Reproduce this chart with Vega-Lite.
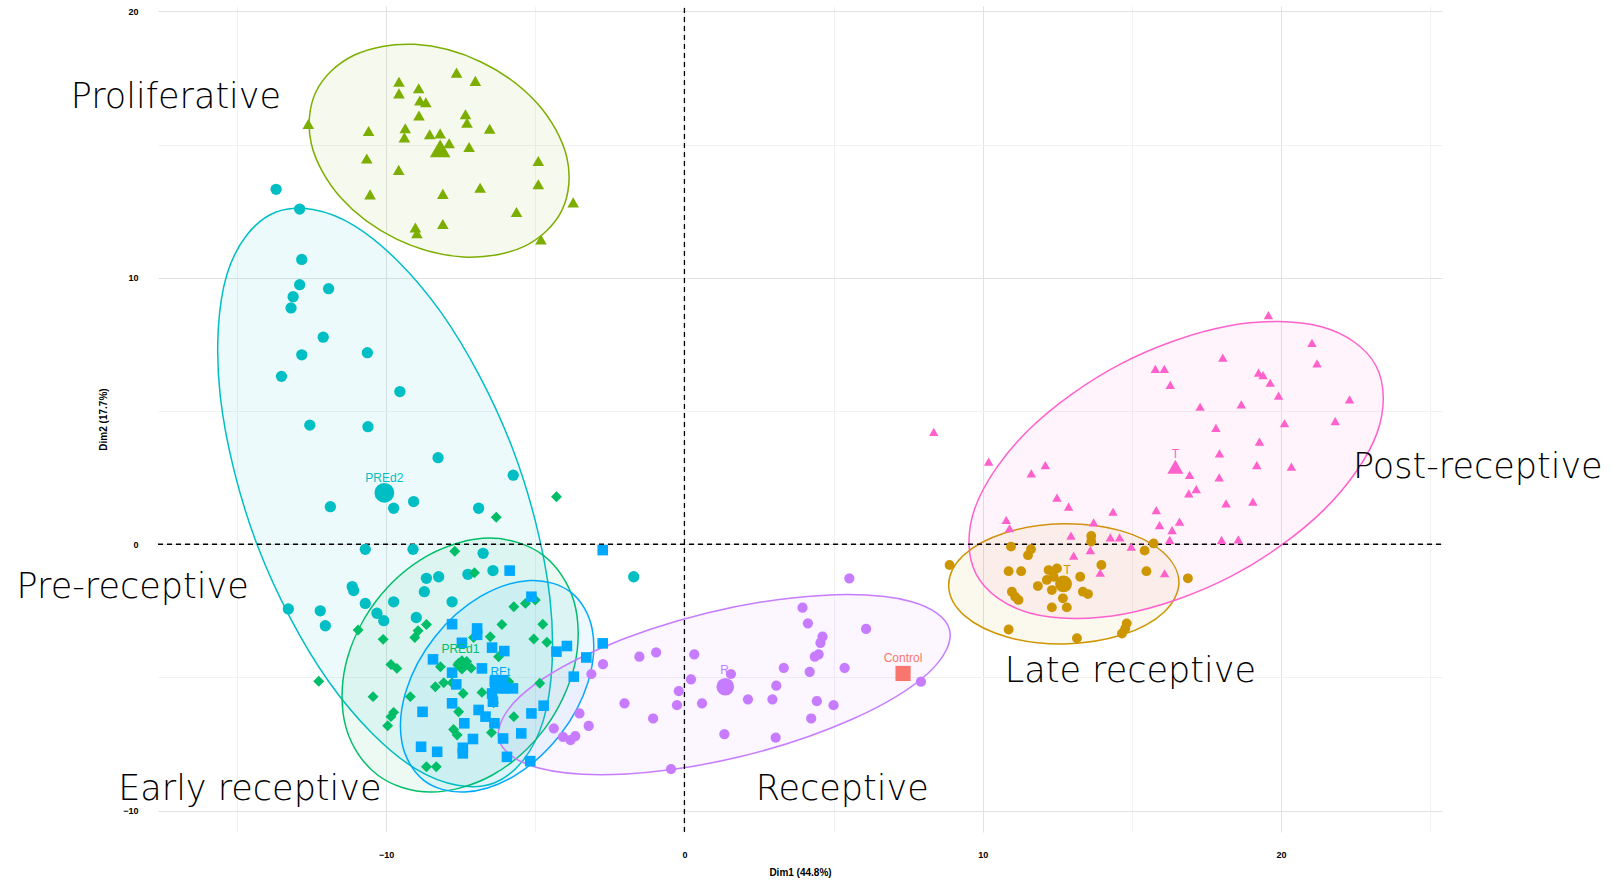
{
"$schema": "https://vega.github.io/schema/vega-lite/v6.json",
"width": 1284, "height": 826,
"autosize": {"type": "none"},
"padding": {"left": 158, "top": 6, "right": 171, "bottom": 54},
"background": "white",
"config": {"view": {"stroke": null}},
"resolve": {"scale": {"size": "independent"}},
"datasets": {
"ref": [{"l":"v","x":0,"y":-10.8},{"l":"v","x":0,"y":20.2},{"l":"h","x":-17.65,"y":0},{"l":"h","x":25.4,"y":0}],
"ell": [
{"g":"Proliferative","i":0,"x":-4.10,"y":12.55},{"g":"Proliferative","i":1,"x":-5.37,"y":11.18},{"g":"Proliferative","i":2,"x":-7.40,"y":10.78},{"g":"Proliferative","i":3,"x":-9.65,"y":11.45},{"g":"Proliferative","i":4,"x":-11.52,"y":13.00},{"g":"Proliferative","i":5,"x":-12.51,"y":15.03},{"g":"Proliferative","i":6,"x":-12.35,"y":16.99},{"g":"Proliferative","i":7,"x":-11.08,"y":18.35},{"g":"Proliferative","i":8,"x":-9.05,"y":18.76},{"g":"Proliferative","i":9,"x":-6.80,"y":18.09},{"g":"Proliferative","i":10,"x":-4.93,"y":16.54},{"g":"Proliferative","i":11,"x":-3.94,"y":14.51},
{"g":"Pre-receptive","i":0,"x":-6.38,"y":-8.96},{"g":"Pre-receptive","i":1,"x":-9.01,"y":-8.43},{"g":"Pre-receptive","i":2,"x":-11.91,"y":-5.18},{"g":"Pre-receptive","i":3,"x":-14.31,"y":-0.07},{"g":"Pre-receptive","i":4,"x":-15.56,"y":5.53},{"g":"Pre-receptive","i":5,"x":-15.34,"y":10.12},{"g":"Pre-receptive","i":6,"x":-13.69,"y":12.47},{"g":"Pre-receptive","i":7,"x":-11.06,"y":11.95},{"g":"Pre-receptive","i":8,"x":-8.16,"y":8.70},{"g":"Pre-receptive","i":9,"x":-5.76,"y":3.58},{"g":"Pre-receptive","i":10,"x":-4.51,"y":-2.02},{"g":"Pre-receptive","i":11,"x":-4.73,"y":-6.61},
{"g":"Early receptive","i":0,"x":-4.74,"y":-0.41},{"g":"Early receptive","i":1,"x":-3.70,"y":-2.16},{"g":"Early receptive","i":2,"x":-3.68,"y":-4.54},{"g":"Early receptive","i":3,"x":-4.69,"y":-6.93},{"g":"Early receptive","i":4,"x":-6.45,"y":-8.67},{"g":"Early receptive","i":5,"x":-8.51,"y":-9.30},{"g":"Early receptive","i":6,"x":-10.29,"y":-8.66},{"g":"Early receptive","i":7,"x":-11.34,"y":-6.91},{"g":"Early receptive","i":8,"x":-11.36,"y":-4.53},{"g":"Early receptive","i":9,"x":-10.35,"y":-2.15},{"g":"Early receptive","i":10,"x":-8.58,"y":-0.41},{"g":"Early receptive","i":11,"x":-6.53,"y":0.23},
{"g":"REt","i":0,"x":-3.80,"y":-1.81},{"g":"REt","i":1,"x":-3.09,"y":-3.20},{"g":"REt","i":2,"x":-3.23,"y":-5.17},{"g":"REt","i":3,"x":-4.18,"y":-7.17},{"g":"REt","i":4,"x":-5.70,"y":-8.69},{"g":"REt","i":5,"x":-7.37,"y":-9.30},{"g":"REt","i":6,"x":-8.75,"y":-8.85},{"g":"REt","i":7,"x":-9.47,"y":-7.45},{"g":"REt","i":8,"x":-9.33,"y":-5.49},{"g":"REt","i":9,"x":-8.37,"y":-3.48},{"g":"REt","i":10,"x":-6.85,"y":-1.97},{"g":"REt","i":11,"x":-5.18,"y":-1.36},
{"g":"Receptive","i":0,"x":8.89,"y":-3.22},{"g":"Receptive","i":1,"x":8.17,"y":-4.84},{"g":"Receptive","i":2,"x":5.62,"y":-6.57},{"g":"Receptive","i":3,"x":1.92,"y":-7.96},{"g":"Receptive","i":4,"x":-1.94,"y":-8.62},{"g":"Receptive","i":5,"x":-4.92,"y":-8.39},{"g":"Receptive","i":6,"x":-6.22,"y":-7.32},{"g":"Receptive","i":7,"x":-5.50,"y":-5.70},{"g":"Receptive","i":8,"x":-2.94,"y":-3.97},{"g":"Receptive","i":9,"x":0.76,"y":-2.58},{"g":"Receptive","i":10,"x":4.61,"y":-1.92},{"g":"Receptive","i":11,"x":7.59,"y":-2.15},
{"g":"Late receptive","i":0,"x":16.58,"y":-1.41},{"g":"Late receptive","i":1,"x":16.08,"y":-2.55},{"g":"Late receptive","i":2,"x":14.68,"y":-3.40},{"g":"Late receptive","i":3,"x":12.75,"y":-3.74},{"g":"Late receptive","i":4,"x":10.82,"y":-3.48},{"g":"Late receptive","i":5,"x":9.39,"y":-2.68},{"g":"Late receptive","i":6,"x":8.86,"y":-1.56},{"g":"Late receptive","i":7,"x":9.35,"y":-0.42},{"g":"Late receptive","i":8,"x":10.76,"y":0.43},{"g":"Late receptive","i":9,"x":12.68,"y":0.77},{"g":"Late receptive","i":10,"x":14.62,"y":0.51},{"g":"Late receptive","i":11,"x":16.04,"y":-0.29},
{"g":"Post-receptive","i":0,"x":23.19,"y":6.69},{"g":"Post-receptive","i":1,"x":23.22,"y":4.17},{"g":"Post-receptive","i":2,"x":21.44,"y":1.29},{"g":"Post-receptive","i":3,"x":18.34,"y":-1.20},{"g":"Post-receptive","i":4,"x":14.74,"y":-2.62},{"g":"Post-receptive","i":5,"x":11.60,"y":-2.59},{"g":"Post-receptive","i":6,"x":9.78,"y":-1.12},{"g":"Post-receptive","i":7,"x":9.75,"y":1.39},{"g":"Post-receptive","i":8,"x":11.53,"y":4.28},{"g":"Post-receptive","i":9,"x":14.63,"y":6.77},{"g":"Post-receptive","i":10,"x":18.23,"y":8.19},{"g":"Post-receptive","i":11,"x":21.36,"y":8.16}
],
"pts": [
{"g":"Proliferative","x":-7.64,"y":17.70},{"g":"Proliferative","x":-7.01,"y":17.39},{"g":"Proliferative","x":-9.57,"y":17.36},{"g":"Proliferative","x":-8.91,"y":17.11},{"g":"Proliferative","x":-9.57,"y":16.92},{"g":"Proliferative","x":-8.87,"y":16.65},{"g":"Proliferative","x":-8.67,"y":16.59},{"g":"Proliferative","x":-8.90,"y":16.09},{"g":"Proliferative","x":-7.34,"y":16.14},{"g":"Proliferative","x":-7.29,"y":15.82},{"g":"Proliferative","x":-6.53,"y":15.59},{"g":"Proliferative","x":-9.36,"y":15.61},{"g":"Proliferative","x":-9.39,"y":15.27},{"g":"Proliferative","x":-10.59,"y":15.51},{"g":"Proliferative","x":-8.54,"y":15.39},{"g":"Proliferative","x":-8.19,"y":15.42},{"g":"Proliferative","x":-7.89,"y":15.05},{"g":"Proliferative","x":-7.22,"y":14.91},{"g":"Proliferative","x":-10.65,"y":14.48},{"g":"Proliferative","x":-4.90,"y":14.38},{"g":"Proliferative","x":-9.58,"y":14.05},{"g":"Proliferative","x":-4.90,"y":13.51},{"g":"Proliferative","x":-6.85,"y":13.38},{"g":"Proliferative","x":-10.54,"y":13.13},{"g":"Proliferative","x":-8.10,"y":13.15},{"g":"Proliferative","x":-3.73,"y":12.83},{"g":"Proliferative","x":-5.63,"y":12.47},{"g":"Proliferative","x":-9.02,"y":11.89},{"g":"Proliferative","x":-8.97,"y":11.67},{"g":"Proliferative","x":-8.10,"y":12.02},{"g":"Proliferative","x":-4.81,"y":11.44},{"g":"Proliferative","x":-12.61,"y":15.77},
{"g":"Pre-receptive","x":-13.69,"y":13.32},{"g":"Pre-receptive","x":-12.90,"y":12.58},{"g":"Pre-receptive","x":-12.83,"y":10.69},{"g":"Pre-receptive","x":-12.90,"y":9.74},{"g":"Pre-receptive","x":-11.93,"y":9.59},{"g":"Pre-receptive","x":-13.12,"y":9.29},{"g":"Pre-receptive","x":-13.19,"y":8.87},{"g":"Pre-receptive","x":-12.11,"y":7.77},{"g":"Pre-receptive","x":-10.63,"y":7.19},{"g":"Pre-receptive","x":-12.83,"y":7.11},{"g":"Pre-receptive","x":-13.51,"y":6.30},{"g":"Pre-receptive","x":-9.54,"y":5.73},{"g":"Pre-receptive","x":-12.56,"y":4.47},{"g":"Pre-receptive","x":-10.61,"y":4.41},{"g":"Pre-receptive","x":-8.26,"y":3.25},{"g":"Pre-receptive","x":-5.74,"y":2.59},{"g":"Pre-receptive","x":-11.87,"y":1.41},{"g":"Pre-receptive","x":-9.75,"y":1.35},{"g":"Pre-receptive","x":-9.08,"y":1.60},{"g":"Pre-receptive","x":-6.90,"y":1.35},{"g":"Pre-receptive","x":-10.70,"y":-0.19},{"g":"Pre-receptive","x":-9.10,"y":-0.19},{"g":"Pre-receptive","x":-6.75,"y":-0.34},{"g":"Pre-receptive","x":-6.42,"y":-0.99},{"g":"Pre-receptive","x":-8.65,"y":-1.28},{"g":"Pre-receptive","x":-8.24,"y":-1.22},{"g":"Pre-receptive","x":-7.26,"y":-1.13},{"g":"Pre-receptive","x":-11.14,"y":-1.59},{"g":"Pre-receptive","x":-11.09,"y":-1.74},{"g":"Pre-receptive","x":-8.72,"y":-1.78},{"g":"Pre-receptive","x":-7.79,"y":-2.16},{"g":"Pre-receptive","x":-10.70,"y":-2.22},{"g":"Pre-receptive","x":-9.75,"y":-2.16},{"g":"Pre-receptive","x":-10.31,"y":-2.59},{"g":"Pre-receptive","x":-12.21,"y":-2.50},{"g":"Pre-receptive","x":-12.04,"y":-3.06},{"g":"Pre-receptive","x":-10.08,"y":-2.87},{"g":"Pre-receptive","x":-8.99,"y":-2.75},{"g":"Pre-receptive","x":-1.70,"y":-1.22},{"g":"Pre-receptive","x":-13.28,"y":-2.43},
{"g":"Early receptive","x":-4.29,"y":1.78},{"g":"Early receptive","x":-6.31,"y":1.01},{"g":"Early receptive","x":-7.70,"y":-0.26},{"g":"Early receptive","x":-7.04,"y":-1.07},{"g":"Early receptive","x":-10.94,"y":-3.22},{"g":"Early receptive","x":-10.10,"y":-3.57},{"g":"Early receptive","x":-9.04,"y":-3.50},{"g":"Early receptive","x":-8.93,"y":-3.25},{"g":"Early receptive","x":-8.65,"y":-3.01},{"g":"Early receptive","x":-7.07,"y":-3.50},{"g":"Early receptive","x":-6.51,"y":-3.47},{"g":"Early receptive","x":-6.12,"y":-3.01},{"g":"Early receptive","x":-5.72,"y":-2.35},{"g":"Early receptive","x":-5.33,"y":-2.22},{"g":"Early receptive","x":-5.00,"y":-2.09},{"g":"Early receptive","x":-4.75,"y":-3.00},{"g":"Early receptive","x":-5.05,"y":-3.56},{"g":"Early receptive","x":-4.61,"y":-3.68},{"g":"Early receptive","x":-9.84,"y":-4.51},{"g":"Early receptive","x":-9.64,"y":-4.66},{"g":"Early receptive","x":-8.18,"y":-4.60},{"g":"Early receptive","x":-7.57,"y":-4.47},{"g":"Early receptive","x":-6.23,"y":-4.22},{"g":"Early receptive","x":-8.35,"y":-5.35},{"g":"Early receptive","x":-8.07,"y":-5.20},{"g":"Early receptive","x":-7.79,"y":-5.20},{"g":"Early receptive","x":-6.79,"y":-5.56},{"g":"Early receptive","x":-7.42,"y":-5.60},{"g":"Early receptive","x":-9.19,"y":-5.72},{"g":"Early receptive","x":-10.44,"y":-5.72},{"g":"Early receptive","x":-9.75,"y":-6.31},{"g":"Early receptive","x":-9.84,"y":-6.47},{"g":"Early receptive","x":-9.95,"y":-6.81},{"g":"Early receptive","x":-7.57,"y":-6.29},{"g":"Early receptive","x":-6.40,"y":-5.95},{"g":"Early receptive","x":-5.89,"y":-5.16},{"g":"Early receptive","x":-7.74,"y":-6.95},{"g":"Early receptive","x":-7.62,"y":-7.16},{"g":"Early receptive","x":-6.47,"y":-7.07},{"g":"Early receptive","x":-5.72,"y":-6.47},{"g":"Early receptive","x":-4.85,"y":-5.22},{"g":"Early receptive","x":-8.65,"y":-8.35},{"g":"Early receptive","x":-8.32,"y":-8.35},{"g":"Early receptive","x":-12.26,"y":-5.14},{"g":"Early receptive","x":-7.30,"y":-4.40},{"g":"Early receptive","x":-7.15,"y":-4.65},
{"g":"REt","x":-2.74,"y":-0.22},{"g":"REt","x":-5.86,"y":-0.99},{"g":"REt","x":-5.13,"y":-1.97},{"g":"REt","x":-7.79,"y":-3.00},{"g":"REt","x":-6.95,"y":-3.16},{"g":"REt","x":-6.95,"y":-3.40},{"g":"REt","x":-7.46,"y":-3.70},{"g":"REt","x":-6.45,"y":-3.88},{"g":"REt","x":-6.04,"y":-4.01},{"g":"REt","x":-8.43,"y":-4.32},{"g":"REt","x":-7.79,"y":-4.82},{"g":"REt","x":-7.65,"y":-5.26},{"g":"REt","x":-6.79,"y":-4.66},{"g":"REt","x":-6.36,"y":-5.16},{"g":"REt","x":-6.06,"y":-5.41},{"g":"REt","x":-5.75,"y":-5.41},{"g":"REt","x":-6.45,"y":-5.60},{"g":"REt","x":-6.42,"y":-5.91},{"g":"REt","x":-7.79,"y":-5.97},{"g":"REt","x":-8.78,"y":-6.29},{"g":"REt","x":-6.90,"y":-6.22},{"g":"REt","x":-6.67,"y":-6.47},{"g":"REt","x":-6.37,"y":-6.72},{"g":"REt","x":-7.38,"y":-6.72},{"g":"REt","x":-7.09,"y":-7.31},{"g":"REt","x":-8.83,"y":-7.60},{"g":"REt","x":-8.29,"y":-7.79},{"g":"REt","x":-7.43,"y":-7.64},{"g":"REt","x":-7.43,"y":-7.85},{"g":"REt","x":-6.08,"y":-7.29},{"g":"REt","x":-5.47,"y":-7.10},{"g":"REt","x":-5.13,"y":-6.35},{"g":"REt","x":-4.72,"y":-6.06},{"g":"REt","x":-5.95,"y":-7.98},{"g":"REt","x":-5.17,"y":-8.14},{"g":"REt","x":-4.29,"y":-4.03},{"g":"REt","x":-3.94,"y":-3.82},{"g":"REt","x":-3.29,"y":-4.25},{"g":"REt","x":-3.71,"y":-4.97},{"g":"REt","x":-2.74,"y":-3.72},
{"g":"Receptive","x":5.53,"y":-1.28},{"g":"Receptive","x":3.96,"y":-2.38},{"g":"Receptive","x":4.14,"y":-2.97},{"g":"Receptive","x":6.09,"y":-3.18},{"g":"Receptive","x":4.63,"y":-3.47},{"g":"Receptive","x":4.56,"y":-3.70},{"g":"Receptive","x":4.50,"y":-4.13},{"g":"Receptive","x":4.37,"y":-4.22},{"g":"Receptive","x":5.37,"y":-4.64},{"g":"Receptive","x":4.20,"y":-4.79},{"g":"Receptive","x":3.33,"y":-4.64},{"g":"Receptive","x":1.56,"y":-4.87},{"g":"Receptive","x":3.08,"y":-5.31},{"g":"Receptive","x":0.33,"y":-4.13},{"g":"Receptive","x":-0.95,"y":-4.06},{"g":"Receptive","x":-1.51,"y":-4.22},{"g":"Receptive","x":-2.73,"y":-4.50},{"g":"Receptive","x":-3.12,"y":-4.87},{"g":"Receptive","x":0.22,"y":-5.07},{"g":"Receptive","x":-0.19,"y":-5.51},{"g":"Receptive","x":-0.25,"y":-6.04},{"g":"Receptive","x":0.59,"y":-5.97},{"g":"Receptive","x":-2.01,"y":-5.97},{"g":"Receptive","x":2.13,"y":-5.82},{"g":"Receptive","x":2.95,"y":-5.82},{"g":"Receptive","x":4.44,"y":-5.89},{"g":"Receptive","x":5.00,"y":-6.04},{"g":"Receptive","x":4.25,"y":-6.54},{"g":"Receptive","x":-1.05,"y":-6.54},{"g":"Receptive","x":-3.52,"y":-6.35},{"g":"Receptive","x":-3.21,"y":-6.82},{"g":"Receptive","x":-4.38,"y":-6.91},{"g":"Receptive","x":-3.82,"y":-7.35},{"g":"Receptive","x":-3.66,"y":-7.20},{"g":"Receptive","x":-4.07,"y":-7.23},{"g":"Receptive","x":1.34,"y":-7.13},{"g":"Receptive","x":3.06,"y":-7.26},{"g":"Receptive","x":-0.45,"y":-8.44},{"g":"Receptive","x":7.93,"y":-5.16},
{"g":"Late receptive","x":8.89,"y":-0.78},{"g":"Late receptive","x":10.95,"y":-0.09},{"g":"Late receptive","x":11.52,"y":-0.41},{"g":"Late receptive","x":11.62,"y":-0.19},{"g":"Late receptive","x":10.87,"y":-1.01},{"g":"Late receptive","x":11.29,"y":-1.01},{"g":"Late receptive","x":12.21,"y":-0.97},{"g":"Late receptive","x":12.49,"y":-0.91},{"g":"Late receptive","x":12.38,"y":-1.22},{"g":"Late receptive","x":12.15,"y":-1.34},{"g":"Late receptive","x":11.85,"y":-1.57},{"g":"Late receptive","x":13.27,"y":-1.22},{"g":"Late receptive","x":12.32,"y":-1.72},{"g":"Late receptive","x":10.98,"y":-1.78},{"g":"Late receptive","x":11.09,"y":-1.97},{"g":"Late receptive","x":11.20,"y":-2.09},{"g":"Late receptive","x":13.36,"y":-1.78},{"g":"Late receptive","x":13.53,"y":-1.87},{"g":"Late receptive","x":12.69,"y":-2.03},{"g":"Late receptive","x":12.32,"y":-2.37},{"g":"Late receptive","x":12.82,"y":-2.37},{"g":"Late receptive","x":13.64,"y":0.31},{"g":"Late receptive","x":13.64,"y":0.10},{"g":"Late receptive","x":13.98,"y":-0.78},{"g":"Late receptive","x":15.43,"y":-0.24},{"g":"Late receptive","x":15.49,"y":-1.01},{"g":"Late receptive","x":15.73,"y":0.03},{"g":"Late receptive","x":16.88,"y":-1.28},{"g":"Late receptive","x":10.87,"y":-3.20},{"g":"Late receptive","x":13.16,"y":-3.53},{"g":"Late receptive","x":14.83,"y":-2.97},{"g":"Late receptive","x":14.78,"y":-3.16},{"g":"Late receptive","x":14.67,"y":-3.35},
{"g":"Post-receptive","x":19.58,"y":8.60},{"g":"Post-receptive","x":21.04,"y":7.56},{"g":"Post-receptive","x":21.21,"y":6.79},{"g":"Post-receptive","x":18.05,"y":7.00},{"g":"Post-receptive","x":15.79,"y":6.58},{"g":"Post-receptive","x":16.09,"y":6.58},{"g":"Post-receptive","x":16.29,"y":5.98},{"g":"Post-receptive","x":19.25,"y":6.44},{"g":"Post-receptive","x":19.40,"y":6.35},{"g":"Post-receptive","x":19.64,"y":6.06},{"g":"Post-receptive","x":19.92,"y":5.58},{"g":"Post-receptive","x":18.67,"y":5.25},{"g":"Post-receptive","x":17.29,"y":5.16},{"g":"Post-receptive","x":22.30,"y":5.44},{"g":"Post-receptive","x":21.82,"y":4.62},{"g":"Post-receptive","x":20.12,"y":4.54},{"g":"Post-receptive","x":17.82,"y":4.37},{"g":"Post-receptive","x":19.28,"y":3.85},{"g":"Post-receptive","x":17.94,"y":3.41},{"g":"Post-receptive","x":19.19,"y":2.97},{"g":"Post-receptive","x":20.35,"y":2.91},{"g":"Post-receptive","x":16.94,"y":2.60},{"g":"Post-receptive","x":17.93,"y":2.51},{"g":"Post-receptive","x":17.16,"y":2.07},{"g":"Post-receptive","x":16.91,"y":1.91},{"g":"Post-receptive","x":18.16,"y":1.53},{"g":"Post-receptive","x":19.06,"y":1.60},{"g":"Post-receptive","x":8.36,"y":4.22},{"g":"Post-receptive","x":10.20,"y":3.10},{"g":"Post-receptive","x":11.63,"y":2.66},{"g":"Post-receptive","x":12.10,"y":2.97},{"g":"Post-receptive","x":12.49,"y":1.75},{"g":"Post-receptive","x":12.88,"y":1.41},{"g":"Post-receptive","x":10.79,"y":0.91},{"g":"Post-receptive","x":10.90,"y":0.60},{"g":"Post-receptive","x":13.72,"y":0.82},{"g":"Post-receptive","x":14.37,"y":1.22},{"g":"Post-receptive","x":15.82,"y":1.28},{"g":"Post-receptive","x":15.93,"y":0.72},{"g":"Post-receptive","x":16.60,"y":0.85},{"g":"Post-receptive","x":16.35,"y":0.53},{"g":"Post-receptive","x":16.27,"y":0.16},{"g":"Post-receptive","x":12.96,"y":0.32},{"g":"Post-receptive","x":14.28,"y":0.26},{"g":"Post-receptive","x":14.59,"y":0.26},{"g":"Post-receptive","x":18.01,"y":0.16},{"g":"Post-receptive","x":18.57,"y":0.18},{"g":"Post-receptive","x":14.98,"y":-0.09},{"g":"Post-receptive","x":13.05,"y":-0.43},{"g":"Post-receptive","x":13.61,"y":-0.22},{"g":"Post-receptive","x":13.94,"y":-1.07},{"g":"Post-receptive","x":16.10,"y":-1.09}
],
"cen": [
{"g":"Proliferative","x":-8.19,"y":14.86},{"g":"Pre-receptive","x":-10.06,"y":1.93},{"g":"Early receptive","x":-7.46,"y":-4.53},{"g":"REt","x":-6.21,"y":-5.25},{"g":"Receptive","x":1.37,"y":-5.35},{"g":"Late receptive","x":12.71,"y":-1.49},{"g":"Post-receptive","x":16.46,"y":2.91},{"g":"Control","x":7.33,"y":-4.85}
],
"lab": [
{"t":"PREd2","g":"Pre-receptive","x":-10.06,"y":2.47},{"t":"PREd1","g":"Early receptive","x":-7.51,"y":-3.95},{"t":"REt","g":"REt","x":-6.17,"y":-4.79},{"t":"R","g":"Receptive","x":1.35,"y":-4.72},{"t":"Control","g":"Control","x":7.33,"y":-4.26},{"t":"T","g":"Post-receptive","x":16.46,"y":3.37},{"t":"T","g":"Late receptive","x":12.83,"y":-0.97}
],
"ann": [
{"t":"Proliferative","x":-17.05,"y":16.39},{"t":"Pre-receptive","x":-18.50,"y":-2.01},{"t":"Early receptive","x":-14.57,"y":-9.61},{"t":"Receptive","x":5.29,"y":-9.61},{"t":"Late receptive","x":14.95,"y":-5.17},{"t":"Post-receptive","x":26.60,"y":2.47}
]
},
"encoding": {
"x": {"field":"x","type":"quantitative","scale":{"domain":[-17.65,25.4],"nice":false,"zero":false},
 "axis":{"title":"Dim1 (44.8%)","values":[-15,-10,-5,0,5,10,15,20,25],"labelExpr":"datum.value % 10 === 0 ? datum.label : ''","grid":true,"gridColor":{"condition":{"test":"datum.value % 10 === 0","value":"#E2E2E2"},"value":"#F2F2F2"},"gridWidth":1,"domain":false,"ticks":false,"labelFont":"Liberation Sans","labelFontSize":9,"labelFontWeight":"bold","labelColor":"#000000","labelPadding":18,"labelOverlap":false,"titleFont":"Liberation Sans","titleFontSize":10,"titleFontWeight":"bold","titleColor":"#000000","titlePadding":8}},
"y": {"field":"y","type":"quantitative","scale":{"domain":[-10.8,20.2],"nice":false,"zero":false},
 "axis":{"title":"Dim2 (17.7%)","values":[-10,-5,0,5,10,15,20],"labelExpr":"datum.value % 10 === 0 ? datum.label : ''","grid":true,"gridColor":{"condition":{"test":"datum.value % 10 === 0","value":"#E2E2E2"},"value":"#F2F2F2"},"gridWidth":1,"domain":false,"ticks":false,"labelFont":"Liberation Sans","labelFontSize":9,"labelFontWeight":"bold","labelColor":"#000000","labelPadding":20,"labelOverlap":false,"titleFont":"Liberation Sans","titleFontSize":10,"titleFontWeight":"bold","titleColor":"#000000","titlePadding":14}}
},
"layer": [
{"data":{"name":"ell"},
 "mark":{"type":"line","interpolate":"cardinal-closed","strokeWidth":1.5,"fillOpacity":0.07},
 "encoding":{"order":{"field":"i","type":"quantitative"},"detail":{"field":"g"},
  "stroke":{"field":"g","type":"nominal","legend":null,"scale":{"domain":["Proliferative","Pre-receptive","Early receptive","REt","Receptive","Late receptive","Post-receptive","Control"],"range":["#7CAE00","#00BFC4","#00BE67","#00A9FF","#C77CFF","#CD9600","#FF61CC","#F8766D"]}},
  "fill":{"field":"g","type":"nominal","legend":null,"scale":{"domain":["Proliferative","Pre-receptive","Early receptive","REt","Receptive","Late receptive","Post-receptive","Control"],"range":["#7CAE00","#00BFC4","#00BE67","#00A9FF","#C77CFF","#CD9600","#FF61CC","#F8766D"]}}}},
{"data":{"name":"ref"},
 "mark":{"type":"line","color":"#000000","strokeWidth":1.3,"strokeDash":[5,4]},
 "encoding":{"detail":{"field":"l"}}},
{"data":{"name":"pts"},
 "mark":{"type":"point","filled":true,"opacity":1},
 "encoding":{
  "color":{"field":"g","type":"nominal","legend":null,"scale":{"domain":["Proliferative","Pre-receptive","Early receptive","REt","Receptive","Late receptive","Post-receptive","Control"],"range":["#7CAE00","#00BFC4","#00BE67","#00A9FF","#C77CFF","#CD9600","#FF61CC","#F8766D"]}},
  "shape":{"field":"g","type":"nominal","legend":null,"scale":{"domain":["Proliferative","Pre-receptive","Early receptive","REt","Receptive","Late receptive","Post-receptive","Control"],"range":["triangle-up","circle","diamond","square","circle","circle","triangle-up","square"]}},
  "size":{"field":"g","type":"nominal","legend":null,"scale":{"domain":["Proliferative","Pre-receptive","Early receptive","REt","Receptive","Late receptive","Post-receptive","Control"],"range":[135,82,40,100,70,58,135,90]}}}},
{"data":{"name":"cen"},
 "mark":{"type":"point","filled":true,"opacity":1},
 "encoding":{
  "color":{"field":"g","type":"nominal","legend":null},
  "shape":{"field":"g","type":"nominal","legend":null},
  "size":{"field":"g","type":"nominal","legend":null,"scale":{"domain":["Proliferative","Pre-receptive","Early receptive","REt","Receptive","Late receptive","Post-receptive","Control"],"range":[420,230,140,220,190,180,480,280]}}}},
{"data":{"name":"lab"},
 "mark":{"type":"text","font":"Liberation Sans","fontSize":12,"align":"center","baseline":"middle"},
 "encoding":{"text":{"field":"t"},"color":{"field":"g","type":"nominal","legend":null}}},
{"data":{"name":"ann"},
 "mark":{"type":"text","font":"DejaVu Sans","fontSize":35,"fontWeight":200,"align":"center","baseline":"alphabetic","color":"#000000"},
 "encoding":{"text":{"field":"t"}}}
]
}
